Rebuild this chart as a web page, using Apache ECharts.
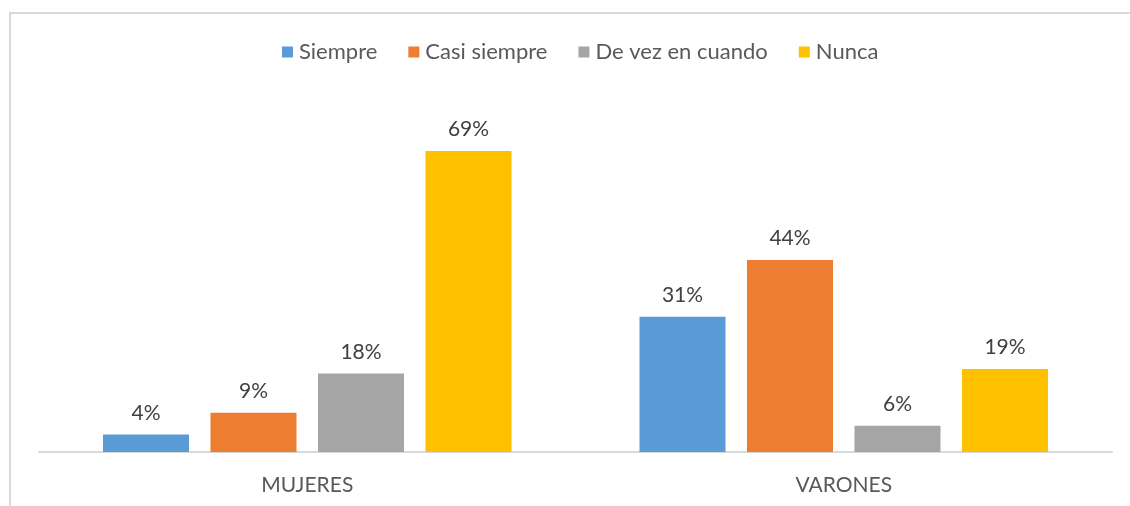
<!DOCTYPE html>
<html>
<head>
<meta charset="utf-8">
<script src="https://cdn.jsdelivr.net/npm/echarts@6/dist/echarts.min.js"></script>
<style>
  body { margin: 0; background: #fff; overflow: hidden; }
  .frame {
    position: absolute;
    left: 9px;
    top: 12px;
    width: 1300px;
    height: 700px;
    border: 2px solid #d9d9d9;
  }
  .chart {
    position: absolute;
    left: 0;
    top: 0;
    width: 1130px;
    height: 506px;
  }
</style>
</head>
<body>
<div class="frame"></div>
<div class="chart" id="chart"></div>
<script>
const categories = ['MUJERES', 'VARONES'];
const seriesNames = ['Siempre', 'Casi siempre', 'De vez en cuando', 'Nunca'];
const siempre = [4, 31];
const casiSiempre = [9, 44];
const deVez = [18, 6];
const nunca = [69, 19];
const colors = ['#5B9BD5', '#ED7D31', '#A5A5A5', '#FFC000'];

const font = 'Lato, "Open Sans", sans-serif';
const values = [siempre, casiSiempre, deVez, nunca];

const chart = echarts.init(document.getElementById('chart'));
chart.setOption({
  animation: false,
  color: colors,
  textStyle: { fontFamily: font },
  legend: {
    top: 36,
    left: 277,
    itemWidth: 11,
    itemHeight: 11,
    itemGap: 31,
    icon: 'rect',
    textStyle: { fontSize: 22, color: '#595959', fontFamily: font, padding: [0, 0, 0, 1] },
    data: seriesNames,
  },
  grid: {
    top: 103,
    left: 39,
    right: 18,
    bottom: 54,
  },
  xAxis: {
    type: 'category',
    data: categories,
    axisTick: { show: false },
    axisLine: { show: true, lineStyle: { color: '#d9d9d9', width: 2 } },
    axisLabel: { color: '#595959', fontSize: 21, margin: 23, fontFamily: font },
  },
  yAxis: {
    type: 'value',
    min: 0,
    max: 80,
    show: false,
    splitLine: { show: false },
  },
  series: seriesNames.map((name, i) => ({
    name,
    type: 'bar',
    data: values[i],
    barWidth: 86,
    barGap: '25%',
    barCategoryGap: '24%',
    label: {
      show: true,
      position: 'top',
      distance: 11,
      formatter: '{c}%',
      fontSize: 21,
      color: '#404040',
      fontFamily: font,
    },
  })),
});
</script>
</body>
</html>
